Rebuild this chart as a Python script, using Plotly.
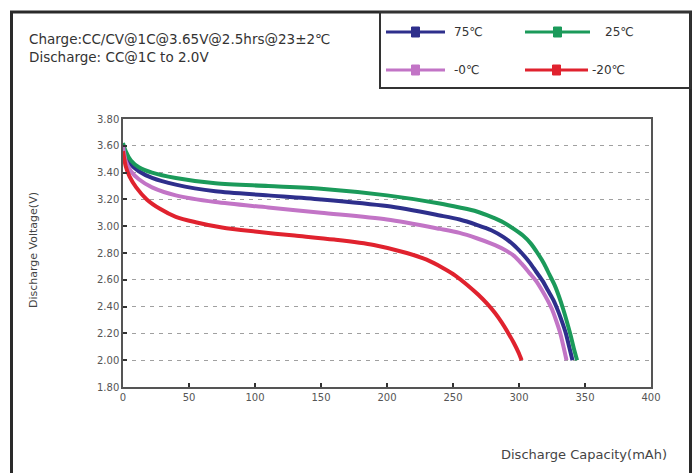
import plotly.graph_objects as go

# ---- data ----
x_25 = [0, 2, 6, 12, 22, 40, 70, 110, 150, 200, 240, 255, 268, 279, 288, 296, 303, 309, 314, 319, 323, 327, 330.5, 333.5, 336.5, 339, 341.5, 344]
v_25 = [3.62, 3.56, 3.49, 3.44, 3.40, 3.36, 3.32, 3.30, 3.28, 3.23, 3.17, 3.14, 3.11, 3.07, 3.03, 2.98, 2.93, 2.87, 2.80, 2.72, 2.64, 2.56, 2.47, 2.38, 2.28, 2.19, 2.09, 2.00]

x_75 = [0, 2, 6, 12, 22, 40, 70, 110, 150, 200, 240, 255, 268, 279, 288, 296, 302, 308, 313, 318, 322, 326, 329.5, 332.5, 335.5, 338, 340.5]
v_75 = [3.61, 3.53, 3.46, 3.41, 3.36, 3.31, 3.26, 3.23, 3.20, 3.15, 3.08, 3.05, 3.01, 2.97, 2.92, 2.86, 2.80, 2.73, 2.66, 2.59, 2.52, 2.45, 2.37, 2.29, 2.20, 2.10, 2.00]

x_0 = [0, 2, 6, 12, 22, 40, 70, 110, 150, 200, 240, 255, 268, 279, 288, 296, 302, 308, 313, 317.5, 321.5, 325, 328, 331, 333.5, 336]
v_0 = [3.60, 3.49, 3.41, 3.35, 3.29, 3.23, 3.18, 3.14, 3.10, 3.05, 2.98, 2.95, 2.91, 2.87, 2.83, 2.78, 2.72, 2.65, 2.59, 2.52, 2.45, 2.38, 2.30, 2.21, 2.11, 2.00]

x_m20 = [0, 2, 5, 10, 18, 28, 40, 55, 75, 100, 130, 160, 190, 215, 230, 242, 252, 261, 269, 276, 282, 287, 292, 296, 299.5, 302]
v_m20 = [3.56, 3.45, 3.37, 3.29, 3.20, 3.13, 3.07, 3.03, 2.99, 2.96, 2.93, 2.90, 2.86, 2.80, 2.75, 2.69, 2.63, 2.56, 2.49, 2.42, 2.35, 2.28, 2.20, 2.13, 2.06, 2.00]

series_names = ["75℃", "25℃", "-0℃", "-20℃"]
series_colors = ["#2e2f8c", "#1b9a5a", "#c274c6", "#e0222e"]

x_ticks = [0, 50, 100, 150, 200, 250, 300, 350, 400]
y_ticks = [1.80, 2.00, 2.20, 2.40, 2.60, 2.80, 3.00, 3.20, 3.40, 3.60, 3.80]

note_lines = ["Charge:CC/CV@1C@3.65V@2.5hrs@23±2℃", "Discharge: CC@1C to 2.0V"]
x_title = "Discharge Capacity(mAh)"
y_title = "Discharge Voltage(V)"

FONT = "DejaVu Sans, Arial, sans-serif"

# plot area in pixels: left 123, right 651, top 119, bottom 387
W, H = 694, 473
L, R, T, B = 123, 651, 119, 387
pw, ph = R - L, B - T


def px(xp):
    return (xp - L) / pw


def py(yp):
    return (B - yp) / ph


fig = go.Figure()
data = [(x_75, v_75), (x_25, v_25), (x_0, v_0), (x_m20, v_m20)]
for (xs, vs), name, col in zip(data, series_names, series_colors):
    fig.add_trace(go.Scatter(x=xs, y=vs, mode="lines", name=name,
                             line=dict(color=col, width=4, shape="spline", smoothing=0.8),
                             showlegend=False))

shapes = []
# outer frame
shapes.append(dict(type="rect", xref="paper", yref="paper",
                   x0=px(11.5), x1=px(690.5), y0=py(490), y1=py(12),
                   line=dict(color="#2a2a2a", width=3), layer="above"))
# legend box
shapes.append(dict(type="rect", xref="paper", yref="paper",
                   x0=px(380), x1=px(690.5), y0=py(88), y1=py(12),
                   line=dict(color="#333333", width=2), layer="above"))

annotations = []
# legend entries (manual 2x2 layout)
leg_pos = [(386, 445, 32, 452), (525, 590, 32, 603), (386, 445, 70, 452), (525, 588, 70, 590)]
for (x0, x1, yy, tx), name, col in zip(leg_pos, series_names, series_colors):
    shapes.append(dict(type="line", xref="paper", yref="paper",
                       x0=px(x0), x1=px(x1), y0=py(yy), y1=py(yy),
                       line=dict(color=col, width=3), layer="above"))
    cx = (x0 + x1) / 2
    shapes.append(dict(type="rect", xref="paper", yref="paper",
                       x0=px(cx - 4), x1=px(cx + 4), y0=py(yy + 5), y1=py(yy - 5),
                       fillcolor=col, line=dict(color=col, width=1), layer="above"))
    annotations.append(dict(xref="paper", yref="paper", x=px(tx), y=py(yy),
                            text=name, showarrow=False, xanchor="left", yanchor="middle",
                            font=dict(family=FONT, size=12, color="#333333")))

# condition notes
for i, t in enumerate(note_lines):
    annotations.append(dict(xref="paper", yref="paper", x=px(27), y=py(39 + 18 * i),
                            text=t, showarrow=False, xanchor="left", yanchor="middle",
                            font=dict(family=FONT, size=13.5, color="#333333")))

# axis titles
annotations.append(dict(xref="paper", yref="paper", x=px(33), y=py(250),
                        text=y_title, showarrow=False, textangle=-90,
                        xanchor="center", yanchor="middle",
                        font=dict(family=FONT, size=11, color="#444444")))
annotations.append(dict(xref="paper", yref="paper", x=px(669), y=py(454),
                        text=x_title, showarrow=False,
                        xanchor="right", yanchor="middle",
                        font=dict(family=FONT, size=13, color="#444444")))

tickfont = dict(family=FONT, size=10, color="#555555")
fig.update_layout(
    width=W, height=H,
    margin=dict(l=L, r=W - R, t=T, b=H - B, pad=0),
    paper_bgcolor="white", plot_bgcolor="white",
    shapes=shapes, annotations=annotations,
    xaxis=dict(range=[0, 400], tickvals=x_ticks, ticktext=[str(v) for v in x_ticks],
               showgrid=False, zeroline=False, showline=True, mirror=True,
               linecolor="#555555", linewidth=1.5,
               ticks="inside", ticklen=4, tickcolor="#333333", tickwidth=1.5,
               tickfont=tickfont),
    yaxis=dict(range=[1.8, 3.8], tickvals=y_ticks, ticktext=["%.2f" % v for v in y_ticks],
               showgrid=True, gridcolor="#a0a0a0", gridwidth=1, griddash="4px,5px",
               zeroline=False, showline=True, mirror=True,
               linecolor="#555555", linewidth=1.5,
               ticks="inside", ticklen=4, tickcolor="#333333", tickwidth=1.5,
               tickfont=tickfont),
)

fig.write_html("out.html", config={"displayModeBar": False},
               post_script="document.body.style.margin='0px';")
